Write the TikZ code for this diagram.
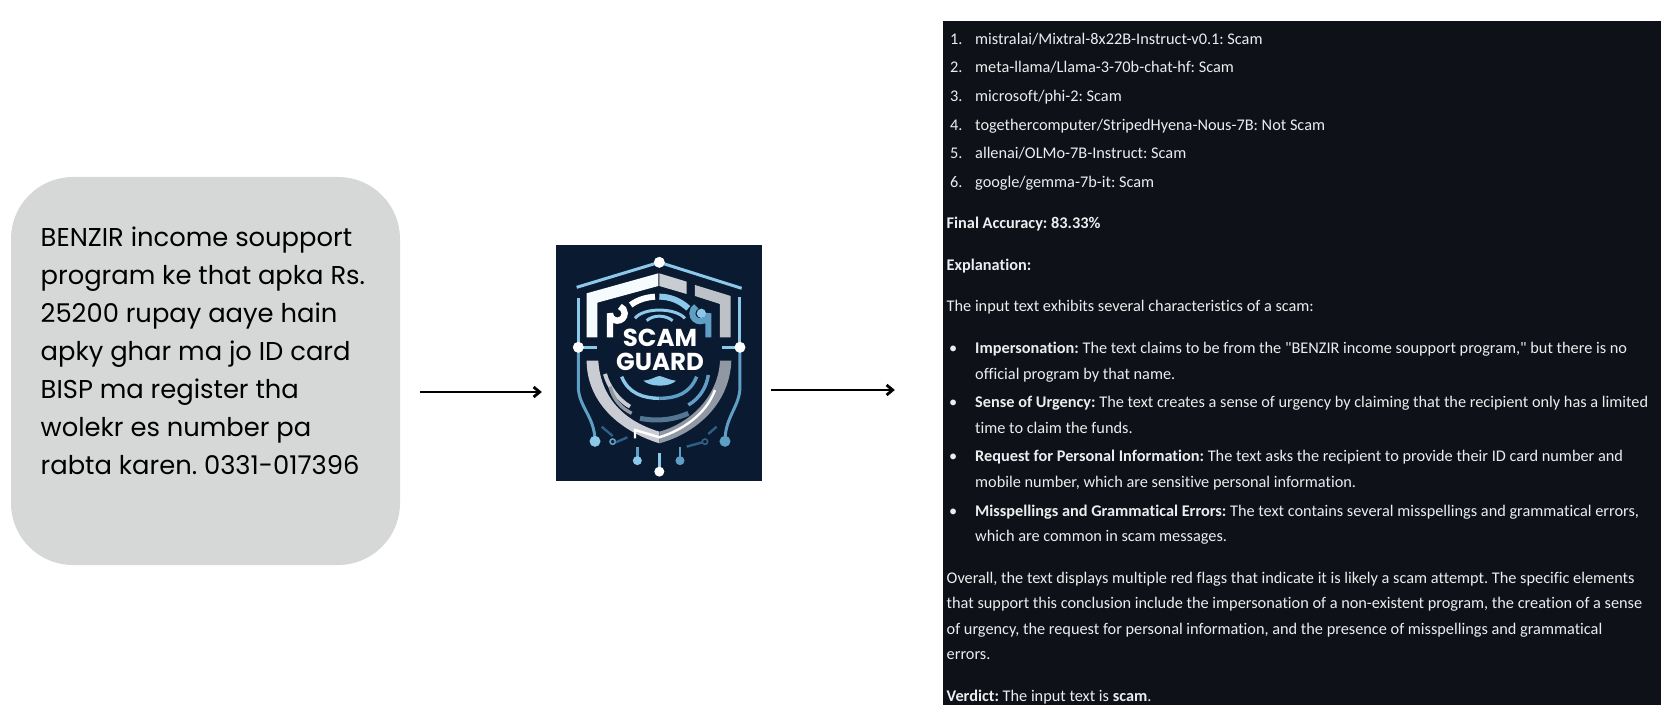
\documentclass[tikz,border=0pt]{standalone}
\usepackage{fontspec}
\setmainfont{Carlito}[Ligatures={TeXOff,NoCommon}]
\newfontfamily\msgfont{Poppins}
\definecolor{msg_c}{HTML}{D6D8D8}
\definecolor{panel_c}{HTML}{0E1117}
\definecolor{panel_t}{HTML}{ECEDEF}
\definecolor{logo_c}{HTML}{0A1A30}
\definecolor{sky_c}{HTML}{8CC8EA}
\definecolor{mid_c}{HTML}{5F9FC6}
\definecolor{deep_c}{HTML}{2F5F86}
\definecolor{silver_c}{HTML}{C9CDD3}
\definecolor{grey_c}{HTML}{8F98A3}
\usetikzlibrary{arrows.meta,
		calc,
		positioning}

\begin{document}
\frenchspacing
\begin{tikzpicture}[
			x=1pt,y=-1pt,
			flow/.style = {-{Straight Barb[length=6pt,width=10pt]}, line width=2.8pt, black},
			msgtxt/.style = {anchor=north west, align=left, font=\msgfont\fontsize{25.8}{38}\selectfont, text=black, inner sep=0pt},
			txt/.style = {anchor=base west, inner sep=0pt, yshift=-1pt, text=panel_t, font=\fontsize{16.3}{20}\selectfont},
			ball/.style = {circle, fill=sky_c, inner sep=0pt, minimum size=11pt},
			dot/.style = {circle, fill=white, inner sep=0pt, minimum size=11pt},
			]
		\useasboundingbox (0,0) rectangle (1674,714);
		\node[fill=msg_c, rounded corners=62pt, minimum width=389pt, minimum height=388pt, inner sep=0pt] (msg) at (205.5,371) {};
		\node[msgtxt] (msgtext) at (40.5,227) {BENZIR income soupport\\program ke that apka Rs.\\25200 rupay aaye hain\\apky ghar ma jo ID card\\BISP ma register tha\\wolekr es number pa\\rabta karen. 0331-017396};
		\node[fill=logo_c, minimum width=206pt, minimum height=236pt, inner sep=0pt] (logo) at (659,363) {};
		\node[fill=panel_c, minimum width=718pt, minimum height=684pt, inner sep=0pt] (panel) at (1302,363) {};
		% arrows
		\draw[flow] ([xshift=19.5pt,yshift=-21pt]msg.east) -- ([xshift=-14pt,yshift=-29pt]logo.west);
		\draw[flow] ([xshift=9pt,yshift=-27pt]logo.east) -- ([xshift=-48pt,yshift=-27pt]panel.west);
		% logo
		\begin{scope}[shift={(540,230)},x=0.3333pt,y=-0.3333pt]
			% wires
			\draw[sky_c,line width=3pt] (110,172) -- (358,97) -- (605,175);
			\draw[sky_c,line width=3pt] (115,205) -- (115,352) -- (172,352);
			\draw[sky_c,line width=3pt] (600,200) -- (600,352) -- (545,352);
			\draw[mid_c,line width=3pt] (115,352) -- (115,470) .. controls (115,530) and (165,560) .. (165,634);
			\draw[mid_c,line width=3pt] (600,352) -- (600,470) .. controls (600,530) and (555,560) .. (555,634);
			\draw[mid_c,line width=2.6pt] (292,650) -- (292,690);
			\draw[mid_c,line width=2.6pt] (420,650) -- (420,690);
			\draw[sky_c,line width=2.6pt] (358,670) -- (358,725);
			\draw[deep_c,line width=2.4pt] (185,590) -- (218,618);
			\draw[deep_c,line width=2.4pt] (530,590) -- (505,612);
			\draw[mid_c,line width=1.6pt] (218,635) circle (8);
			\draw[deep_c,line width=1.6pt] (495,635) circle (8);
			\draw[deep_c,line width=2.4pt] (440,650) -- (487,637);
			\draw[deep_c,line width=2.4pt] (228,637) -- (262,622);
			% shield top
			\fill[white!92!sky_c] (140,190) -- (355,130) -- (355,168) -- (172,218) -- (172,322) -- (140,322) -- cycle;
			\fill[silver_c] (358,130) -- (440,155) -- (440,192) -- (358,168) -- cycle;
			\fill[silver_c!80!grey_c] (465,165) -- (572,198) -- (572,322) -- (540,322) -- (540,222) -- (465,198) -- cycle;
			% shield bottom
			\fill[silver_c] (140,392) -- (175,392) .. controls (180,490) and (240,570) .. (358,605) -- (358,640) .. controls (230,600) and (140,510) .. (140,392) -- cycle;
			\fill[grey_c] (358,605) .. controls (450,580) and (535,500) .. (540,392) -- (574,392) .. controls (570,520) and (470,610) .. (358,640) -- cycle;
			\draw[white,line width=2.4pt] (285,625) -- (285,600) -- (358,622) .. controls (430,600) and (500,550) .. (525,480);
			% arcs
			\draw[white,line width=6.4pt] (210,322) -- (210,250) arc (180:-70:22);
			\draw[white,line width=6pt] (272,225) .. controls (295,208) and (320,202) .. (345,200);
			\draw[sky_c,line width=6pt] (358,200) .. controls (390,200) and (420,212) .. (445,235);
			\draw[sky_c,line width=3pt] (285,265) .. controls (310,232) and (405,232) .. (435,265);
			\draw[sky_c,line width=3pt] (320,272) .. controls (340,254) and (375,254) .. (398,272);
			\draw[mid_c,line width=6pt] (505,322) -- (505,250) arc (0:240:24);
			\fill[sky_c] (484,250) circle (14);
			\fill[sky_c] (310,452) .. controls (335,450) and (345,440) .. (358,438) .. controls (372,440) and (385,450) .. (408,452) .. controls (390,472) and (330,472) .. (310,452) -- cycle;
			\draw[silver_c,line width=4pt] (195,432) .. controls (205,470) and (235,510) .. (270,530);
			\draw[sky_c,line width=3.4pt] (245,440) .. controls (265,490) and (310,505) .. (358,505);
			\draw[mid_c,line width=3.4pt] (358,505) .. controls (410,505) and (450,490) .. (470,440);
			\draw[grey_c,line width=3.4pt] (210,470) .. controls (220,510) and (245,535) .. (275,550);
			\draw[deep_c!60!grey_c,line width=5pt] (300,565) .. controls (350,575) and (400,570) .. (445,550);
			\draw[mid_c,line width=3.4pt] (445,525) .. controls (480,505) and (500,470) .. (505,435);
			% balls
			\node[ball] (b1) at (165,634) {};
			\node[ball,fill=mid_c] (b2) at (555,634) {};
			\node[ball,minimum size=9pt] (b3) at (292,692) {};
			\node[ball,fill=mid_c,minimum size=9pt] (b4) at (420,692) {};
			\node[dot] (d1) at (358,97) {};
			\node[dot] (d2) at (115,352) {};
			\node[dot] (d3) at (600,352) {};
			\node[dot,minimum size=10pt] (d4) at (358,725) {};
			% name
			\node[font=\msgfont\bfseries\fontsize{24.5}{25}\selectfont, text=white, inner sep=0pt] (scam) at (360,323) {SCAM};
			\node[font=\msgfont\bfseries\fontsize{24.5}{25}\selectfont, text=white, inner sep=0pt] (guard) at (360,395) {GUARD};
		\end{scope}
		% model list
		\node[txt] (n1) at (950,43.3) {1.};
		\node[txt] (m1) at (975,43.3) {mistralai/Mixtral-8x22B-Instruct-v0.1: Scam};
		\node[txt] (n2) at (950,72) {2.};
		\node[txt] (m2) at (975,72) {meta-llama/Llama-3-70b-chat-hf: Scam};
		\node[txt] (n3) at (950,100.7) {3.};
		\node[txt] (m3) at (975,100.7) {microsoft/phi-2: Scam};
		\node[txt] (n4) at (950,129.3) {4.};
		\node[txt] (m4) at (975,129.3) {togethercomputer/StripedHyena-Nous-7B: Not Scam};
		\node[txt] (n5) at (950,158) {5.};
		\node[txt] (m5) at (975,158) {allenai/OLMo-7B-Instruct: Scam};
		\node[txt] (n6) at (950,186.7) {6.};
		\node[txt] (m6) at (975,186.7) {google/gemma-7b-it: Scam};
		\node[txt] (acc) at (946.5,228) {\bfseries Final Accuracy: 83.33\%};
		\node[txt] (expl) at (946.5,270) {\bfseries Explanation:};
		\node[txt] (intro) at (946.5,311) {The input text exhibits several characteristics of a scam:};
		% bullets
		\node[txt] (u1) at (949,352.7) {•};
		\node[txt] (l1) at (975,352.7) {\textbf{Impersonation:} The text claims to be from the "BENZIR income soupport program," but there is no};
		\node[txt] (l1b) at (975,378) {official program by that name.};
		\node[txt] (u2) at (949,406.7) {•};
		\node[txt] (l2) at (975,406.7) {\textbf{Sense of Urgency:} The text creates a sense of urgency by claiming that the recipient only has a limited};
		\node[txt] (l2b) at (975,432) {time to claim the funds.};
		\node[txt] (u3) at (949,460.7) {•};
		\node[txt] (l3) at (975,460.7) {\textbf{Request for Personal Information:} The text asks the recipient to provide their ID card number and};
		\node[txt] (l3b) at (975,486) {mobile number, which are sensitive personal information.};
		\node[txt] (u4) at (949,515) {•};
		\node[txt] (l4) at (975,515) {\textbf{Misspellings and Grammatical Errors:} The text contains several misspellings and grammatical errors,};
		\node[txt] (l4b) at (975,540) {which are common in scam messages.};
		% closing
		\node[txt] (o1) at (946.5,582) {Overall, the text displays multiple red flags that indicate it is likely a scam attempt. The specific elements};
		\node[txt] (o2) at (946.5,607.7) {that support this conclusion include the impersonation of a non-existent program, the creation of a sense};
		\node[txt] (o3) at (946.5,633) {of urgency, the request for personal information, and the presence of misspellings and grammatical};
		\node[txt] (o4) at (946.5,658.7) {errors.};
		\node[txt] (verd) at (946.5,700) {\textbf{Verdict:} The input text is \textbf{scam}.};
\end{tikzpicture}
\end{document}
